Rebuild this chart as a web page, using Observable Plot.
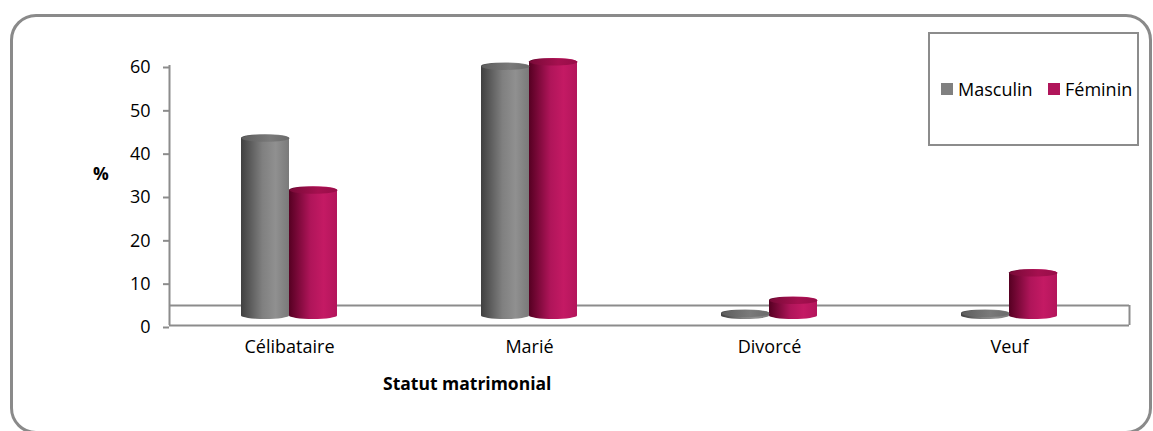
<!DOCTYPE html>
<html><head><meta charset="utf-8">
<script src="https://cdn.jsdelivr.net/npm/d3@7"></script>
<script src="https://cdn.jsdelivr.net/npm/@observablehq/plot@0.6"></script>
<style>
html,body{margin:0;padding:0;background:#fff;}
#wrap{position:relative;width:1153px;height:431px;overflow:hidden;font-family:"Open Sans",sans-serif;}
#frame{position:absolute;left:10px;top:14px;width:1142px;height:420px;box-sizing:border-box;border:3px solid #8a8a8a;border-radius:26px;}
#chart{position:absolute;left:0;top:0;}
#chart svg text{fill:#000;}
.lbl{position:absolute;font-size:17.5px;line-height:17.5px;white-space:nowrap;color:#000;}
.leg{font-size:18px;line-height:18px;}
.bold{font-weight:700;}
#legend{position:absolute;left:928px;top:32px;width:211px;height:114px;box-sizing:border-box;border:2px solid #8c8c8c;}
.sw{position:absolute;width:12px;height:12px;}
</style>
</head><body>
<svg width="0" height="0" style="position:absolute">
<defs>
<linearGradient id="gradM" x1="0" x2="1" y1="0" y2="0">
<stop offset="0" stop-color="#404040"/>
<stop offset="0.45" stop-color="#808080"/>
<stop offset="0.72" stop-color="#909090"/>
<stop offset="1" stop-color="#7a7a7a"/>
</linearGradient>
<linearGradient id="gradF" x1="0" x2="1" y1="0" y2="0">
<stop offset="0" stop-color="#560022"/>
<stop offset="0.45" stop-color="#b0155a"/>
<stop offset="0.72" stop-color="#c41a64"/>
<stop offset="1" stop-color="#b3155b"/>
</linearGradient>
<linearGradient id="capM" x1="0" x2="1" y1="0" y2="0">
<stop offset="0" stop-color="#5e5e5e"/>
<stop offset="0.6" stop-color="#7a7a7a"/>
<stop offset="1" stop-color="#6a6a6a"/>
</linearGradient>
<linearGradient id="capF" x1="0" x2="1" y1="0" y2="0">
<stop offset="0" stop-color="#7a0a38"/>
<stop offset="0.6" stop-color="#a5104f"/>
<stop offset="1" stop-color="#970d48"/>
</linearGradient>
</defs>
</svg>
<div id="wrap">
<div id="frame"></div>
<div id="chart"></div>
<div class="lbl bold" style="left:93px;top:165px;">%</div>
<div class="lbl bold" style="left:383px;top:375px;">Statut matrimonial</div>
<div id="legend"></div>
<div class="sw" style="left:941px;top:83px;background:#808080;"></div>
<div class="lbl leg" id="legM" style="left:958px;top:80px;"></div>
<div class="sw" style="left:1048px;top:83px;background:#b0155a;"></div>
<div class="lbl leg" id="legF" style="left:1065px;top:80px;"></div>
</div>
<script>
const categories = ["Célibataire", "Marié", "Divorcé", "Veuf"];
const series = ["Masculin", "Féminin"];
const masculin = [41.0, 57.6, 0.6, 0.6];
const feminin = [29.0, 58.6, 3.6, 9.9];
const yTicks = [0, 10, 20, 30, 40, 50, 60];

document.getElementById("legM").textContent = series[0];
document.getElementById("legF").textContent = series[1];

const rowsM = categories.map((c, i) => ({category: c, series: series[0], value: masculin[i]}));
const rowsF = categories.map((c, i) => ({category: c, series: series[1], value: feminin[i]}));

const capRx = 24, capRy = 3.5;
const ellipse = {
  draw(ctx) {
    const k = 0.5523, a = capRx, b = capRy;
    ctx.moveTo(-a, 0);
    ctx.bezierCurveTo(-a, -k * b, -k * a, -b, 0, -b);
    ctx.bezierCurveTo(k * a, -b, a, -k * b, a, 0);
    ctx.bezierCurveTo(a, k * b, k * a, b, 0, b);
    ctx.bezierCurveTo(-k * a, b, -a, k * b, -a, 0);
    ctx.closePath();
  }
};

const lineColor = "#8c8c8c";
const barOpts = {x: "category", y: "value", rx: capRx, ry: capRy, dy: -6, insetTop: -7};

const chart = Plot.plot({
  width: 1153,
  height: 431,
  marginLeft: 169,
  marginRight: 24,
  marginTop: 65,
  marginBottom: 106,
  style: {fontFamily: "Open Sans", fontSize: "18px", background: "transparent", overflow: "visible"},
  x: {domain: categories, padding: 0},
  y: {domain: [0, 60]},
  marks: [
    Plot.ruleY([0], {dy: -20, stroke: lineColor, strokeWidth: 2}),
    Plot.ruleX([categories[categories.length - 1]], {dx: 120, y1: 0, y2: 0, insetTop: -20, stroke: lineColor, strokeWidth: 2}),
    Plot.ruleY([0], {stroke: lineColor, strokeWidth: 2}),
    Plot.ruleX([categories[0]], {dx: -120, stroke: lineColor, strokeWidth: 2}),
    Plot.barY(rowsM, {...barOpts, fill: "url(#gradM)", insetLeft: 72, insetRight: 120}),
    Plot.barY(rowsF, {...barOpts, fill: "url(#gradF)", insetLeft: 120, insetRight: 72}),
    Plot.dot(rowsM, {x: "category", y: "value", symbol: ellipse, fill: "url(#capM)", stroke: "none", dx: -24, dy: -9.5}),
    Plot.dot(rowsF, {x: "category", y: "value", symbol: ellipse, fill: "url(#capF)", stroke: "none", dx: 24, dy: -9.5}),
    Plot.axisY({ticks: yTicks, tickSize: 6, tickPadding: 13, stroke: lineColor, strokeWidth: 2, fill: "#000", label: null, dy: 2}),
    Plot.axisX({tickSize: 0, tickPadding: 15, fill: "#000", label: null})
  ]
});
document.getElementById("chart").appendChild(chart);
</script>
</body></html>
